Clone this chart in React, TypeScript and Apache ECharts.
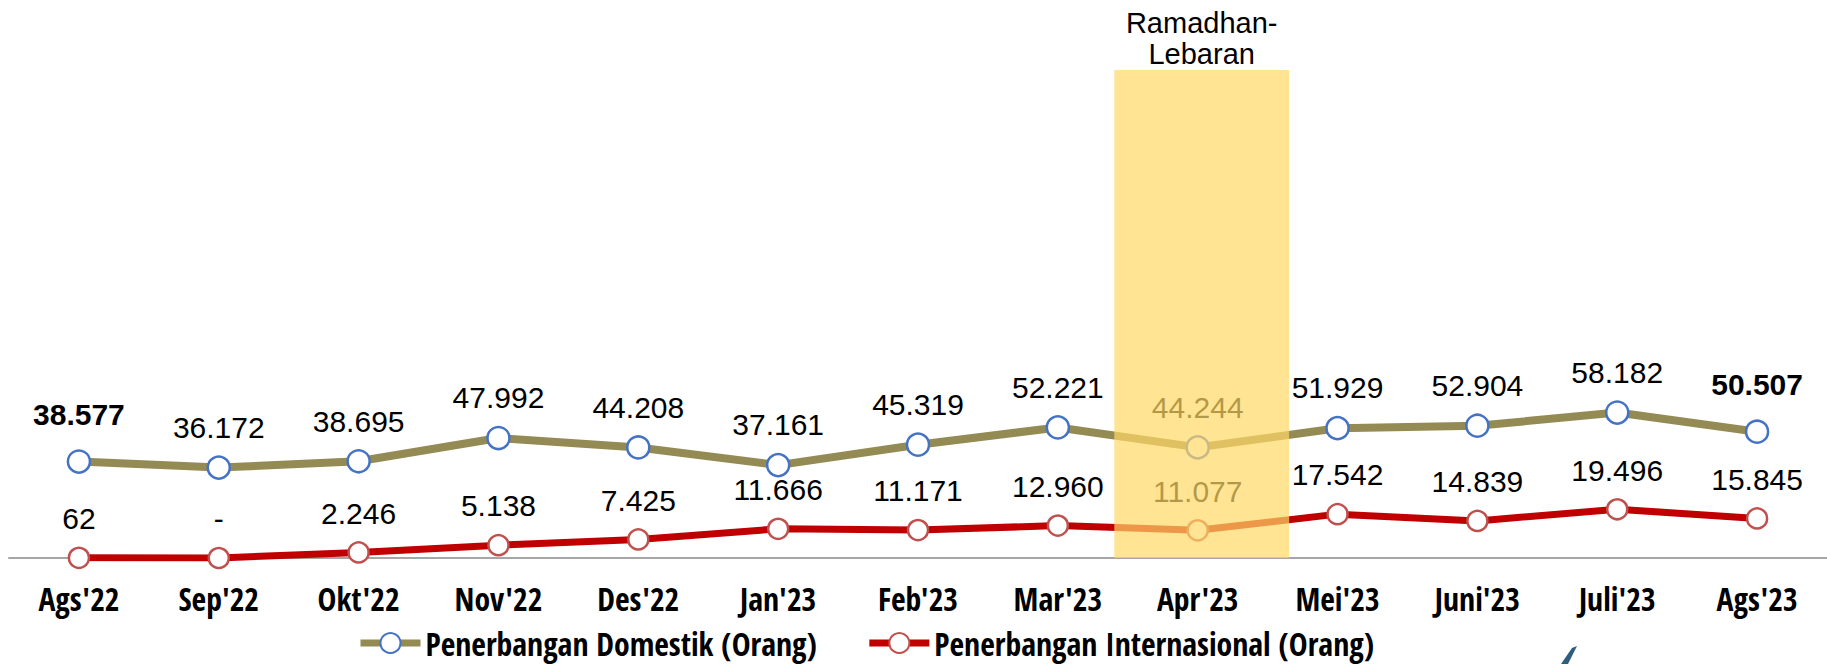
import React, { useEffect, useRef } from "react";
import * as echarts from "echarts";

const categories = ["Ags'22", "Sep'22", "Okt'22", "Nov'22", "Des'22", "Jan'23", "Feb'23", "Mar'23", "Apr'23", "Mei'23", "Juni'23", "Juli'23", "Ags'23"];
const domestik = [38577, 36172, 38695, 47992, 44208, 37161, 45319, 52221, 44244, 51929, 52904, 58182, 50507];
const internasional = [62, 0, 2246, 5138, 7425, 11666, 11171, 12960, 11077, 17542, 14839, 19496, 15845];
const highlightCategory = "Apr'23";
const highlightLabel = "Ramadhan-\nLebaran";
const seriesNames = ["Penerbangan Domestik (Orang)", "Penerbangan Internasional (Orang)"];

const SANS = "'Liberation Sans', Arial, sans-serif";

function fmt(n: number): string {
  if (n === 0) return "-";
  return String(n).replace(/\B(?=(\d{3})+(?!\d))/g, ".");
}

// choose the narrowest available bold sans so the legend text gets its reference width
function pickNarrowFont(): { family: string; size: number } {
  const ctx = document.createElement("canvas").getContext("2d");
  const sample = seriesNames[0];
  const targetWidth = 391;
  const cands = [
    "Liberation Sans Narrow",
    "Arial Narrow",
    "Noto Sans Condensed",
    "Noto Sans SemiCondensed",
    "Open Sans Condensed",
    "Roboto Condensed",
    "DejaVu Sans Condensed",
    "Liberation Sans",
  ];
  let best = { family: "'Liberation Sans', sans-serif", size: 26 };
  if (!ctx) return best;
  ctx.font = "bold 32px monospace";
  const w0 = ctx.measureText(sample).width;
  let bestSize = 0;
  for (const f of cands) {
    ctx.font = `bold 32px "${f}", monospace`;
    const w = ctx.measureText(sample).width;
    if (Math.abs(w - w0) < 0.5) continue;
    const s = Math.min(32 * (targetWidth / w), 32);
    if (s > bestSize + 0.3) {
      bestSize = s;
      best = { family: `'${f}', 'Liberation Sans', sans-serif`, size: Math.round(s * 10) / 10 };
    }
  }
  return best;
}

export default function App() {
  const ref = useRef<HTMLDivElement>(null);
  useEffect(() => {
    document.body.style.margin = "0";
    if (!ref.current) return;
    const nf = pickNarrowFont();
    const chart = echarts.init(ref.current, null, { renderer: "svg" });
    const last = domestik.length - 1;
    const legendH = Math.max(25, nf.size + 2);
    const option: any = {
      animation: false,
      backgroundColor: "#ffffff",
      grid: { left: 9, top: 70, width: 1823, height: 488 },
      xAxis: {
        type: "category",
        data: categories,
        boundaryGap: true,
        axisLine: { lineStyle: { color: "#A6A6A6", width: 2 } },
        axisTick: { show: false },
        axisLabel: {
          color: "#000",
          fontFamily: nf.family,
          fontWeight: "bold",
          fontSize: nf.size,
          lineHeight: nf.size + 2,
          margin: 40 - (nf.size + 2) / 2,
          interval: 0,
        },
      },
      yAxis: { type: "value", min: 0, max: 195200, show: false, splitLine: { show: false } },
      legend: {
        left: 352,
        top: 638 - legendH / 2,
        itemWidth: 60,
        itemHeight: 25,
        itemGap: 49,
        lineStyle: { width: 7 },
        itemStyle: { borderWidth: 2 },
        textStyle: {
          color: "#000",
          fontFamily: nf.family,
          fontWeight: "bold",
          fontSize: nf.size,
          lineHeight: nf.size + 2,
        },
        data: seriesNames,
      },
      series: [
        {
          name: seriesNames[0],
          type: "line",
          data: domestik.map((v, i) =>
            i === 0 || i === last
              ? { value: v, label: { fontWeight: "bold", distance: 20 } }
              : v
          ),
          symbol: "circle",
          symbolSize: 22,
          lineStyle: { color: "#948A54", width: 8 },
          itemStyle: { color: "#ffffff", borderColor: "#4472C4", borderWidth: 2.5 },
          label: {
            show: true,
            position: "top",
            distance: 13,
            color: "#000",
            fontFamily: SANS,
            fontSize: 30,
            formatter: (p: any) => fmt(p.value),
          },
          z: 3,
        },
        {
          name: seriesNames[1],
          type: "line",
          data: internasional,
          symbol: "circle",
          symbolSize: 20,
          lineStyle: { color: "#C00000", width: 7 },
          itemStyle: { color: "#ffffff", borderColor: "#C0504D", borderWidth: 2.5 },
          label: {
            show: true,
            position: "top",
            distance: 13,
            color: "#000",
            fontFamily: SANS,
            fontSize: 30,
            formatter: (p: any) => fmt(p.value),
          },
          z: 3,
        },
      ],
    };
    chart.setOption(option);

    const idx = categories.indexOf(highlightCategory);
    const cx = chart.convertToPixel({ xAxisIndex: 0 }, idx) as number;
    const c0 = chart.convertToPixel({ xAxisIndex: 0 }, 0) as number;
    const c1 = chart.convertToPixel({ xAxisIndex: 0 }, 1) as number;
    const band = c1 - c0;
    const yTop = chart.convertToPixel({ yAxisIndex: 0 }, 195200) as number;
    const yBot = chart.convertToPixel({ yAxisIndex: 0 }, 0) as number;
    const w = band * 1.25;
    chart.setOption({
      graphic: [
        {
          type: "rect",
          z: 100,
          silent: true,
          shape: { x: cx - w / 2 + 4, y: yTop, width: w, height: yBot - yTop },
          style: { fill: "rgba(255,217,102,0.7)" },
        },
        {
          type: "text",
          z: 100,
          x: cx + 4,
          y: 38,
          style: {
            text: highlightLabel,
            fill: "#000",
            font: "29px 'Liberation Sans', Arial, sans-serif",
            align: "center",
            verticalAlign: "middle",
            lineHeight: 31,
          },
        },
        {
          type: "polygon",
          z: 100,
          shape: { points: [[1561, 664], [1572, 648], [1577, 646], [1568, 664]] },
          style: { fill: "#2E5E7E" },
        },
      ],
    });
    return () => chart.dispose();
  }, []);
  return <div ref={ref} style={{ width: 1827, height: 664 }} />;
}
